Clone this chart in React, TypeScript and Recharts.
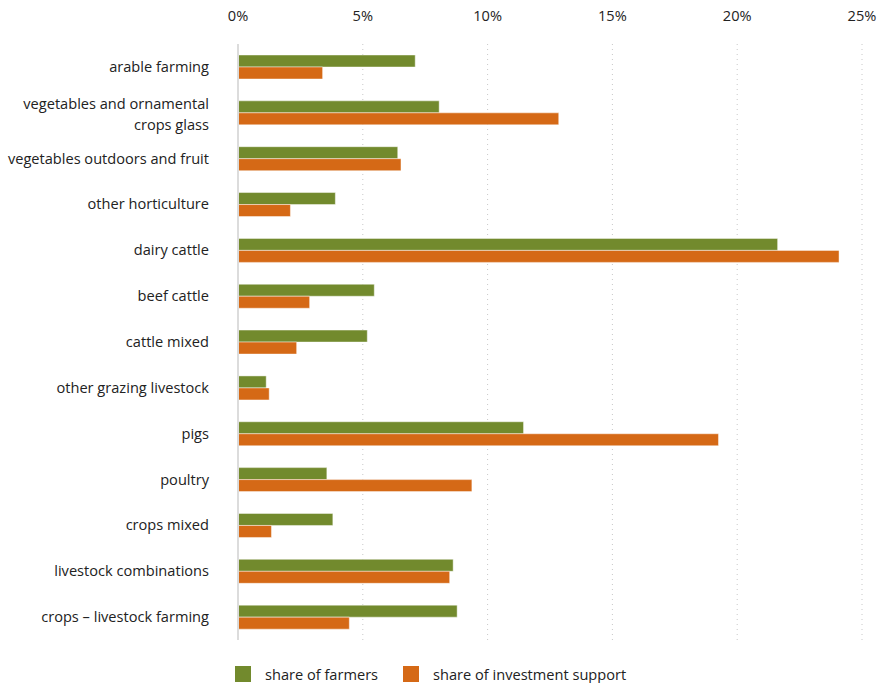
import React from "react";
import { BarChart, Bar, XAxis, YAxis, CartesianGrid, Legend } from "recharts";

const categories = [
  "arable farming",
  "vegetables and ornamental crops glass",
  "vegetables outdoors and fruit",
  "other horticulture",
  "dairy cattle",
  "beef cattle",
  "cattle mixed",
  "other grazing livestock",
  "pigs",
  "poultry",
  "crops mixed",
  "livestock combinations",
  "crops – livestock farming",
];
const shareOfFarmers = [7.1, 8.06, 6.4, 3.9, 21.62, 5.46, 5.18, 1.13, 11.44, 3.56, 3.8, 8.62, 8.78];
const shareOfInvestment = [3.39, 12.85, 6.53, 2.1, 24.08, 2.87, 2.35, 1.25, 19.25, 9.37, 1.34, 8.48, 4.46];
const xTicks = [0, 5, 10, 15, 20, 25];
const seriesNames = ["share of farmers", "share of investment support"];
const colors = ["#728a2d", "#d56916"];

const data = categories.map((c, i) => ({
  category: c,
  farmers: shareOfFarmers[i],
  investment: shareOfInvestment[i],
}));

const FONT = "'Open Sans', sans-serif";
const FS = 14.6;

function wrap(label: string, max: number): string[] {
  const words = label.split(" ");
  const lines: string[] = [];
  let cur = "";
  for (const w of words) {
    const next = cur ? cur + " " + w : w;
    if (next.length > max && cur) {
      lines.push(cur);
      cur = w;
    } else cur = next;
  }
  if (cur) lines.push(cur);
  return lines;
}

const YTick = (props: any) => {
  const { x, y, payload } = props;
  const lines = wrap(payload.value, 30);
  const lh = 21;
  const start = -((lines.length - 1) * lh) / 2 + (lines.length > 1 ? 1.5 : 0);
  return (
    <text x={x} y={y} textAnchor="end" fill="#222" fontSize={FS} fontFamily={FONT}>
      {lines.map((l, i) => (
        <tspan key={i} x={x} dy={i === 0 ? start + 5 : lh}>
          {l}
        </tspan>
      ))}
    </text>
  );
};

const LegendContent = () => (
  <div style={{ display: "flex", alignItems: "center", paddingLeft: 235, paddingTop: 26, fontFamily: FONT, fontSize: FS, color: "#222", lineHeight: "16px" }}>
    {seriesNames.map((n, i) => (
      <div key={n} style={{ display: "flex", alignItems: "center", marginRight: i === 0 ? 25 : 0 }}>
        <div style={{ width: 16, height: 16, background: colors[i], marginRight: 14 }} />
        <span>{n}</span>
      </div>
    ))}
  </div>
);

export default function App() {
  return (
    <div style={{ position: "absolute", top: 0, left: 0, width: 883, height: 683 }}>
      <BarChart
        width={883}
        height={683}
        data={data}
        layout="vertical"
        margin={{ top: 0, right: 21, bottom: 0, left: 0 }}
        barGap={0}
      >
        <CartesianGrid horizontal={false} stroke="#c8c8c8" strokeDasharray="1 4" />
        <XAxis
          type="number"
          orientation="top"
          domain={[0, 25]}
          ticks={xTicks}
          tickFormatter={(v) => `${v}%`}
          axisLine={false}
          tickLine={false}
          tickSize={0}
          tickMargin={23}
          height={44}
          tick={{ fill: "#222", fontSize: FS, fontFamily: FONT }}
          interval={0}
        />
        <YAxis
          type="category"
          dataKey="category"
          width={238}
          axisLine={{ stroke: "#dcdcdc", strokeWidth: 2 }}
          tickLine={false}
          tickSize={0}
          tickMargin={29}
          tick={<YTick />}
          interval={0}
        />
        <Legend verticalAlign="bottom" align="left" height={43} content={<LegendContent />} />
        <Bar dataKey="farmers" name={seriesNames[0]} fill={colors[0]} barSize={12} stroke="rgba(255,255,255,0.45)" strokeWidth={1} isAnimationActive={false} />
        <Bar dataKey="investment" name={seriesNames[1]} fill={colors[1]} barSize={12} stroke="rgba(255,255,255,0.45)" strokeWidth={1} isAnimationActive={false} />
      </BarChart>
    </div>
  );
}
